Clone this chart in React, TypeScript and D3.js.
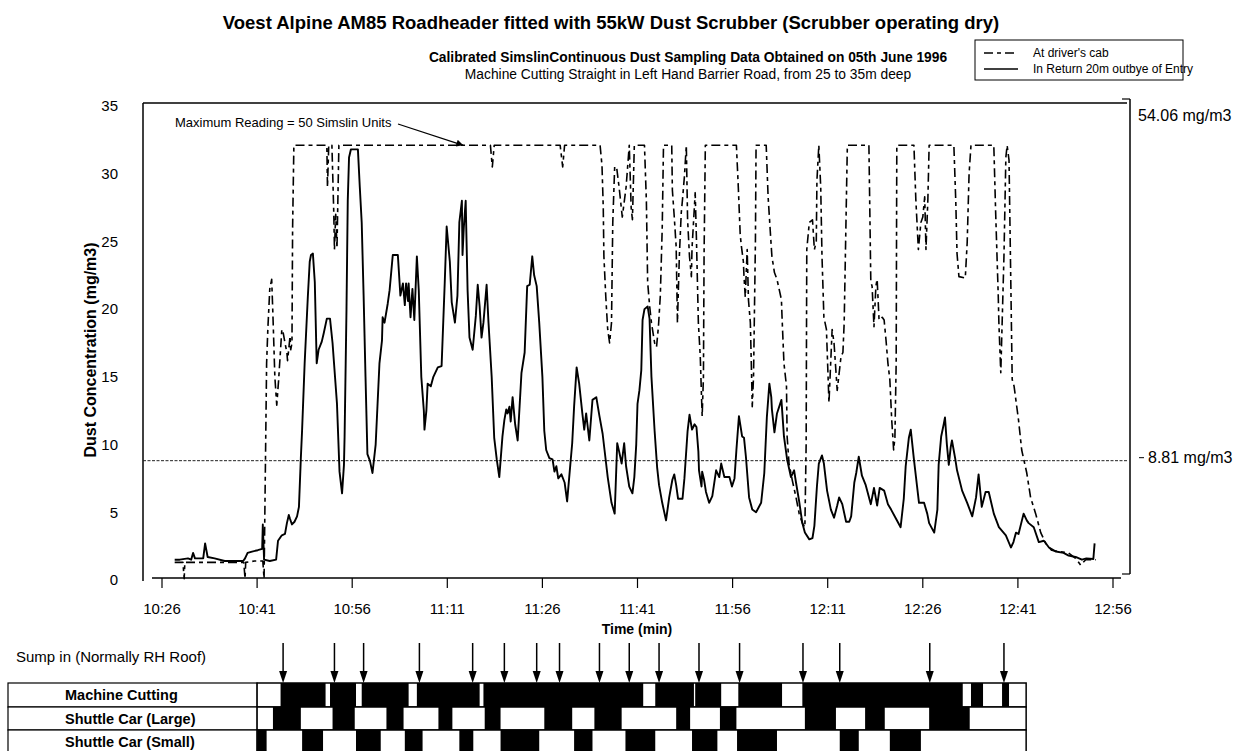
import React from "react";
import * as d3 from "d3";

// Time is stored as minutes after 10:00 (26 = 10:26, 176 = 12:56).
const timeTicks = [26, 41, 56, 71, 86, 101, 116, 131, 146, 161, 176];
const timeTickLabels = ["10:26", "10:41", "10:56", "11:11", "11:26", "11:41", "11:56", "12:11", "12:26", "12:41", "12:56"];
const concTicks = [0, 5, 10, 15, 20, 25, 30, 35];

const limitValue = 8.81;
const limitLabel = "8.81 mg/m3";
const maxLabel = "54.06 mg/m3";

// In Return 20m outbye of Entry: [minute, mg/m3]
const returnAir: [number, number][] = [
  [28.0,1.5],[28.8,1.5],[30.1,1.6],[30.6,1.5],[30.9,2.0],[31.2,1.6],[32.5,1.6],[32.8,2.7],[33.2,1.7],[34.3,1.6],[35.9,1.4],[37.5,1.4],[38.8,1.4],[39.1,1.6],[39.5,2.0],[40.2,2.1],[41.1,2.2],[41.8,2.3],[41.9,4.1],[42.1,1.5],[43.0,1.4],[44.0,1.5],[44.3,2.9],[44.9,3.3],[45.4,3.4],[45.7,4.2],[46.0,4.8],[46.2,4.5],[46.5,4.1],[46.9,4.3],[47.3,4.7],[47.6,5.4],[47.9,9.0],[48.1,11.1],[48.5,16],[49.0,20.9],[49.3,23.5],[49.5,24.0],[49.8,24.1],[50.1,22],[50.4,16],[50.7,17],[51.2,17.6],[51.5,18.2],[52.0,19.3],[52.5,19.3],[52.9,17.5],[53.6,13],[54.0,8],[54.4,6.4],[54.7,8.5],[54.8,10.6],[55.1,20],[55.3,28],[55.5,31.2],[55.8,31.8],[56.9,31.8],[57.2,29],[57.5,26.4],[57.8,21],[58.1,15],[58.4,9.3],[58.8,8.8],[59.2,7.9],[59.7,10],[60.0,13],[60.3,16],[60.7,17.7],[60.8,19.4],[61.1,19.0],[61.6,20.4],[61.9,21.4],[62.4,24.0],[63.2,24.0],[63.6,21.0],[64.0,21.9],[64.3,20.3],[64.5,21.9],[64.8,20.6],[64.9,21.9],[65.2,19.4],[65.5,21.5],[65.8,19.2],[66.2,23.9],[66.5,21.4],[66.9,15],[67.3,12.5],[67.4,11.1],[67.7,12.5],[67.9,14.5],[68.4,14.3],[68.8,15.0],[69.5,15.7],[70.1,15.8],[70.6,22],[70.9,26.1],[71.4,23.5],[71.7,20.5],[72.2,19.0],[72.6,21.0],[72.9,26.4],[73.3,28.0],[73.4,24.0],[73.6,26],[73.9,28.0],[74.2,21.4],[74.5,17.9],[75.0,17.0],[75.5,19.5],[75.8,21.8],[76.1,20.2],[76.4,17.9],[76.7,19],[77.2,21.8],[77.5,19],[78.0,15],[78.4,10.5],[78.8,8.9],[79.2,7.6],[79.7,10.6],[80.0,11.8],[80.3,12.6],[80.5,12.3],[80.8,12.8],[81.0,11.7],[81.3,13.5],[81.7,11.5],[82.1,10.3],[82.7,15.3],[83.2,16.8],[83.6,21.7],[84.0,21.8],[84.4,23.9],[84.7,22.5],[85.1,21.7],[85.5,19],[86.0,15],[86.3,11],[86.6,9.6],[87.1,9.0],[87.6,8.9],[87.9,8.0],[88.2,8.4],[88.5,7.5],[89.0,7.8],[89.5,7.2],[89.9,5.8],[90.4,8.5],[90.7,10.1],[91.0,12.8],[91.4,15.7],[91.8,14.5],[92.3,12.3],[92.6,11.1],[92.9,12.3],[93.4,10.3],[93.9,13.3],[94.5,13.5],[95.0,12.1],[95.5,10.8],[95.8,9.6],[96.3,7.6],[96.9,5.7],[97.4,4.9],[97.8,10.1],[98.1,9.5],[98.5,8.6],[98.9,10.1],[99.2,8.4],[99.7,6.9],[100.2,6.4],[100.5,7.6],[100.8,10],[101.0,13.0],[101.3,14],[101.6,15.5],[101.8,19.2],[102.1,20.0],[102.6,20.2],[102.9,19.3],[103.2,15],[103.7,11],[104.1,8.3],[104.4,7],[104.9,5.7],[105.5,4.4],[106.0,6.1],[106.5,7.4],[106.8,7.8],[107.1,7.0],[107.4,6.0],[108.1,6.0],[108.4,7.5],[108.9,11],[109.2,12.2],[109.6,11.1],[110.0,11.5],[110.3,11.3],[110.6,9.5],[110.7,8.1],[111.1,6.9],[111.2,8],[111.5,7.4],[111.8,6.5],[112.3,5.7],[112.8,6.2],[113.4,8.1],[113.9,7.6],[114.2,8.6],[114.7,7.6],[115.5,7.6],[115.9,6.9],[116.3,7.5],[116.6,9.6],[117.0,12.1],[117.2,11.5],[117.5,10.6],[117.8,10.5],[118.1,9.1],[118.6,6.1],[119.1,5.2],[119.7,5.0],[120.5,5.7],[121.0,7.9],[121.4,12],[121.8,14.5],[122.1,13.5],[122.2,12.6],[122.6,10.9],[123.0,12.3],[123.7,13.3],[124.1,10.6],[124.6,8.9],[125.2,7.6],[125.7,8.1],[126.0,7.2],[126.5,5.8],[127.0,4.2],[127.4,3.5],[128.1,3.0],[128.6,3.1],[128.9,4.0],[129.3,6.9],[129.6,8.6],[130.1,9.2],[130.4,8.6],[130.9,6.6],[131.5,5.2],[132.0,4.6],[132.5,5.5],[132.8,6.1],[133.3,5.6],[133.9,4.3],[134.4,4.3],[134.7,4.7],[135.2,7.2],[135.5,7.9],[135.9,9.1],[136.4,7.7],[137.0,7.0],[137.8,5.6],[138.3,6.8],[138.8,5.5],[139.2,6.8],[139.9,6.6],[140.5,5.6],[141.0,5.2],[141.8,4.5],[142.5,3.9],[143.0,6],[143.3,8.4],[143.8,10.5],[144.1,11.1],[144.6,8.9],[145.1,6.9],[145.4,5.7],[146.2,5.7],[146.7,4.9],[147.0,4.2],[147.8,3.5],[148.3,5.2],[148.5,8.5],[148.9,10.6],[149.3,11.5],[149.5,12.0],[149.8,10],[150.1,8.5],[150.4,9.8],[150.6,10.3],[151.1,9.0],[151.4,8.1],[152.2,6.6],[153.0,5.7],[153.8,4.7],[154.4,6.1],[154.8,7.8],[155.3,5.4],[155.9,6.5],[156.4,6.5],[157.2,4.9],[158.0,3.9],[159.1,3.3],[159.9,2.4],[160.3,2.8],[160.7,3.5],[161.1,3.4],[161.9,4.9],[162.4,4.4],[162.7,4.2],[163.5,3.9],[164.3,2.8],[165.1,2.9],[165.9,2.4],[167.0,2.1],[168.2,2.0],[169.0,1.8],[170.1,1.7],[171.1,1.5],[171.8,1.6],[172.9,1.55],[173.1,2.7],
];

// At driver's cab: [minute, mg/m3]
const driversCab: [number, number][] = [
  [28.0,1.3],[29.3,1.3],[29.5,0.1],[29.6,1.3],[32.0,1.3],[35.1,1.3],[38.3,1.3],[38.9,1.3],[39.1,0.1],[39.2,1.3],[40.6,1.4],[41.9,1.4],[42.1,0.1],[42.2,4],[42.5,16],[42.7,18.6],[43.0,21.5],[43.3,22.2],[43.5,19.5],[43.8,15],[44.1,12.9],[44.4,14.8],[44.9,18.5],[45.1,18.3],[45.4,17.5],[45.7,16.8],[45.8,16.2],[46.2,18],[46.3,17],[46.5,17.5],[46.6,26],[46.8,32.1],[52.0,32.1],[52.1,29],[52.3,32.1],[52.8,32.1],[53.1,27],[53.2,24.4],[53.4,27],[53.6,24.5],[53.9,32.1],[77.8,32.1],[78.1,30.5],[78.4,32.1],[88.8,32.1],[89.2,30.5],[89.5,32.1],[95.1,32.1],[95.4,30.6],[95.6,27.5],[95.7,23.9],[96.0,20.9],[96.3,18.5],[96.6,17.5],[96.9,19],[97.1,26.4],[97.4,30.5],[97.7,30.5],[98.1,29],[98.6,26.8],[99.2,29],[99.7,32.1],[100.0,27.5],[100.2,26.6],[100.5,32.1],[102.1,32.1],[102.4,28],[102.6,22],[102.9,20.3],[103.2,19],[103.7,17.5],[104.0,17.2],[104.3,18.7],[104.6,21],[104.9,26],[105.1,32.1],[106.4,32.1],[106.5,28.8],[106.8,26.8],[107.1,24.6],[107.3,19],[107.6,23.9],[107.9,27.1],[108.1,28.1],[108.4,29.8],[108.7,32.1],[108.9,26.6],[109.2,23.9],[109.5,22.4],[109.6,24.5],[110.1,28.6],[110.3,25.1],[110.6,19],[110.9,16.5],[111.1,13.5],[111.2,12.1],[111.4,15],[111.5,24],[111.7,32.1],[116.6,32.1],[116.9,29],[117.2,25.5],[117.4,24.6],[117.7,23.5],[117.8,22.4],[118.0,20.9],[118.3,24.4],[118.5,20.7],[118.8,19],[119.0,15],[119.1,12.8],[119.3,15],[119.6,25],[119.7,32.1],[121.3,32.1],[121.6,28.3],[122.1,24.6],[122.2,23.9],[122.6,22.7],[123.0,22.2],[123.7,20.7],[123.8,19.4],[124.1,16],[124.5,14.3],[124.6,10.6],[124.9,8.6],[125.4,7.4],[126.0,6.1],[126.5,4.9],[127.0,4.2],[127.4,3.9],[127.6,10],[127.7,24.4],[128.1,26.4],[128.6,26.6],[128.9,24.4],[129.2,25],[129.3,29.5],[129.6,32.1],[129.9,29],[130.1,23.9],[130.4,19.4],[130.8,18.5],[131.2,13.1],[131.7,18.5],[132.0,17.5],[132.5,14],[133.1,16.5],[133.4,16.8],[133.6,19],[134.1,32.1],[137.5,32.1],[137.8,22],[138.0,21.7],[138.3,18.7],[138.6,21.7],[138.8,22.2],[139.1,19.2],[139.6,19.4],[139.9,19.2],[140.2,17.7],[140.5,16],[140.8,14.8],[141.1,11.8],[141.4,9.6],[141.6,10.5],[141.8,16],[141.9,32.1],[144.6,32.1],[144.9,28.1],[145.3,24.4],[145.7,26.4],[146.0,26.8],[146.3,28.3],[146.5,24.4],[146.8,28.1],[147.0,32.1],[150.9,32.1],[151.2,28],[151.4,24.1],[151.7,22.4],[152.7,22.3],[153.0,24.9],[153.3,30],[153.6,32.1],[157.2,32.1],[157.5,27],[157.9,21],[158.0,19],[158.3,15.3],[158.8,23.9],[159.1,31.2],[159.3,32.1],[159.6,31],[159.9,21.4],[160.1,14.8],[160.4,14.3],[161.1,11.8],[161.6,9.6],[162.4,7.9],[163.0,6.1],[163.8,4.9],[164.6,3.5],[165.4,2.7],[166.3,2.2],[167.4,2.1],[169.0,2.0],[170.1,1.6],[170.9,1.1],[171.7,1.5],[173.3,1.5],
];

// Activity log beneath the chart (minutes after 10:00)
const activityStart = 41;
const activityEnd = 162.3;
const sumpIn = [45.1, 53.2, 57.8, 66.6, 75.0, 80.0, 85.1, 88.7, 95.0, 99.7, 104.4, 110.7, 117.1, 127.1, 132.9, 147.1, 158.8];
const machineCutting: [number, number][] = [[44.7,51.8],[52.5,56.6],[57.5,64.9],[66.2,76.1],[76.7,101.9],[103.8,109.9],[110.1,114.2],[116.9,123.8],[127.0,152.3],[153.6,155.5],[158.5,159.6]];
const shuttleLarge: [number, number][] = [[43.5,47.9],[52.9,56.4],[61.4,64.1],[69.6,71.8],[76.9,79.4],[86.3,90.7],[94.2,98.5],[107.1,109.3],[114.0,116.6],[127.4,132.3],[136.9,140.0],[147.0,153.4]];
const shuttleSmall: [number, number][] = [[41.0,42.5],[48.1,51.4],[56.6,60.5],[64.3,67.1],[72.9,75.1],[79.4,85.5],[91.0,93.9],[99.1,103.8],[109.6,113.6],[116.7,123.0],[132.9,135.9],[140.8,145.7]];
const activityRows = [
  { label: "Machine Cutting", spans: machineCutting },
  { label: "Shuttle Car (Large)", spans: shuttleLarge },
  { label: "Shuttle Car (Small)", spans: shuttleSmall },
];

const FONT = "'Liberation Sans', Arial, Helvetica, sans-serif";
const CAB_DASH = "9 4 4 4";

export default function App() {
  const x = d3.scaleLinear().domain([26, 176]).range([162, 1113]);
  const y = d3.scaleLinear().domain([0, 35]).range([580, 106]);

  const line = d3
    .line<[number, number]>()
    .x((d) => x(d[0]))
    .y((d) => y(d[1]));

  const plotLeft = 143;
  const plotTop = 103;
  const plotRight = 1130;
  const axisY = 578;

  const rowTop = 683;
  const rowHeights = [24, 23, 24];
  const rowY = [rowTop, rowTop + rowHeights[0], rowTop + rowHeights[0] + rowHeights[1]];
  const gx0 = x(activityStart);
  const gx1 = x(activityEnd);

  return (
    <svg
      width={1239}
      height={751}
      viewBox="0 0 1239 751"
      style={{ position: "absolute", left: 0, top: 0, background: "#fff" }}
      fontFamily={FONT}
    >
      <defs>
        <marker id="arrowHead" viewBox="0 0 10 10" refX="10" refY="5" markerWidth="9" markerHeight="7" orient="auto" markerUnits="userSpaceOnUse">
          <path d="M0,0 L10,5 L0,10 z" fill="#000" />
        </marker>
      </defs>

      {/* Titles */}
      <text x={611} y={29} textAnchor="middle" fontSize={18.5} fontWeight="bold">
        Voest Alpine AM85 Roadheader fitted with 55kW Dust Scrubber (Scrubber operating dry)
      </text>
      <text x={688} y={62} textAnchor="middle" fontSize={13.8} fontWeight="bold">
        Calibrated SimslinContinuous Dust Sampling Data Obtained on 05th June 1996
      </text>
      <text x={688} y={79} textAnchor="middle" fontSize={13.8}>
        Machine Cutting Straight in Left Hand Barrier Road, from 25 to 35m deep
      </text>

      {/* Legend */}
      <rect x={975} y={40} width={208} height={40} fill="#fff" stroke="#000" strokeWidth={1} />
      <line x1={984} x2={1018} y1={53} y2={53} stroke="#000" strokeWidth={1.3} strokeDasharray={CAB_DASH} />
      <text x={1033} y={57} fontSize={12}>At driver's cab</text>
      <line x1={984} x2={1018} y1={69} y2={69} stroke="#000" strokeWidth={1.3} />
      <text x={1033} y={73} fontSize={12}>In Return 20m outbye of Entry</text>

      {/* Plot frame */}
      <line x1={plotLeft} x2={plotLeft} y1={plotTop} y2={581} stroke="#000" strokeWidth={1.5} />
      <line x1={plotLeft} x2={plotRight - 3} y1={plotTop} y2={plotTop} stroke="#000" strokeWidth={1.5} />
      <line x1={plotRight} x2={plotRight} y1={plotTop - 4} y2={axisY - 4} stroke="#000" strokeWidth={1.5} />
      <line x1={plotRight - 8} x2={plotRight} y1={plotTop - 4} y2={plotTop - 4} stroke="#000" strokeWidth={1.2} />
      <line x1={plotRight - 8} x2={plotRight} y1={axisY - 4} y2={axisY - 4} stroke="#000" strokeWidth={1.2} />
      <line x1={152} x2={1121} y1={axisY} y2={axisY} stroke="#000" strokeWidth={1.5} />

      {/* Time axis */}
      {timeTicks.map((t, i) => (
        <g key={t}>
          <line x1={x(t)} x2={x(t)} y1={axisY} y2={axisY + 10} stroke="#000" strokeWidth={1.2} />
          <text x={x(t)} y={614} textAnchor="middle" fontSize={15}>
            {timeTickLabels[i]}
          </text>
        </g>
      ))}
      <text x={637} y={634} textAnchor="middle" fontSize={14} fontWeight="bold">
        Time (min)
      </text>

      {/* Concentration axis */}
      {concTicks.map((v) => (
        <text key={v} x={118} y={y(v)} dy="0.35em" textAnchor="end" fontSize={15}>
          {v}
        </text>
      ))}
      <text transform="translate(96,350) rotate(-90)" textAnchor="middle" fontSize={16} fontWeight="bold">
        Dust Concentration (mg/m3)
      </text>

      {/* Limit line */}
      <line x1={plotLeft} x2={plotRight - 2} y1={y(limitValue)} y2={y(limitValue)} stroke="#222" strokeWidth={1} strokeDasharray="3 1.5" />
      <line x1={1139} x2={1144} y1={y(limitValue) - 3} y2={y(limitValue) - 3} stroke="#000" strokeWidth={1} />
      <text x={1148} y={y(limitValue) - 3} dy="0.35em" fontSize={16}>
        {limitLabel}
      </text>
      <text x={1138} y={121} fontSize={16}>
        {maxLabel}
      </text>

      {/* Series */}
      <path d={line(driversCab) ?? ""} fill="none" stroke="#000" strokeWidth={1.6} strokeDasharray={CAB_DASH} strokeLinejoin="round" />
      <path d={line(returnAir) ?? ""} fill="none" stroke="#000" strokeWidth={1.9} strokeLinejoin="round" />

      {/* Annotation */}
      <text x={175} y={127} fontSize={13}>
        Maximum Reading = 50 Simslin Units
      </text>
      <line x1={398} y1={124} x2={x(47.5) + 165} y2={y(32.1)} stroke="#000" strokeWidth={1.3} markerEnd="url(#arrowHead)" />

      {/* Activity log */}
      <text x={16} y={662} fontSize={15}>
        Sump in (Normally RH Roof)
      </text>
      {sumpIn.map((t) => (
        <g key={t}>
          <line x1={x(t)} x2={x(t)} y1={643} y2={672} stroke="#000" strokeWidth={1.5} />
          <path d={`M${x(t) - 4},${671} L${x(t) + 4},${671} L${x(t)},${rowTop} Z`} fill="#000" />
        </g>
      ))}
      {activityRows.map((row, i) => (
        <g key={row.label}>
          <rect x={8} y={rowY[i]} width={gx0 - 8} height={rowHeights[i]} fill="#fff" stroke="#000" strokeWidth={1.2} />
          <text x={65} y={rowY[i] + rowHeights[i] / 2} dy="0.36em" fontSize={14.5} fontWeight="bold">
            {row.label}
          </text>
          <rect x={gx0} y={rowY[i]} width={gx1 - gx0} height={rowHeights[i]} fill="#fff" stroke="#000" strokeWidth={1.5} />
          {row.spans.map(([s, e]) => (
            <rect key={s} x={x(s)} y={rowY[i]} width={x(e) - x(s)} height={rowHeights[i]} fill="#000" />
          ))}
        </g>
      ))}
    </svg>
  );
}
